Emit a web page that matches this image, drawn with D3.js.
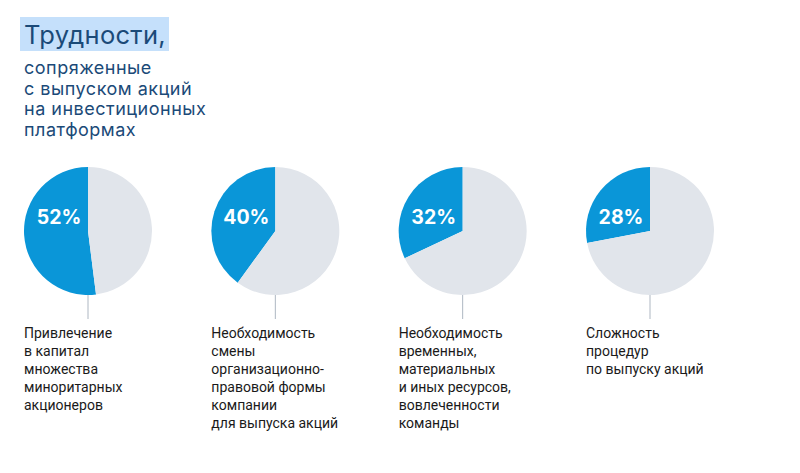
<!DOCTYPE html>
<html>
<head>
<meta charset="utf-8">
<script src="https://cdn.jsdelivr.net/npm/d3@7"></script>
<style>
  body { margin: 0; background: #fff; }
  svg { display: block; }
</style>
</head>
<body>
<svg id="chart" width="800" height="473"></svg>
<script>
// data
var shares = [52, 40, 32, 28];
var pctLabels = ["52%", "40%", "32%", "28%"];
var captions = [
  ["Привлечение", "в капитал", "множества", "миноритарных", "акционеров"],
  ["Необходимость", "смены", "организационно-", "правовой формы", "компании", "для выпуска акций"],
  ["Необходимость", "временных,", "материальных", "и иных ресурсов,", "вовлеченности", "команды"],
  ["Сложность", "процедур", "по выпуску акций"]
];
var titleText = "Трудности,";
var subtitleLines = ["сопряженные", "с выпуском акций", "на инвестиционных", "платформах"];

var svg = d3.select("#chart");
var blue = "#0a96d8", grey = "#e1e5eb", dark = "#1b4a78";

// title with highlight
svg.append("rect")
  .attr("x", 20).attr("y", 17)
  .attr("width", 149).attr("height", 34)
  .attr("fill", "#c5e0fb");

svg.append("text")
  .attr("x", 24).attr("y", 44)
  .attr("font-family", "Inter, 'Noto Sans', sans-serif")
  .attr("font-size", 25.5)
  .attr("letter-spacing", 0.3)
  .attr("fill", dark)
  .text(titleText);

svg.append("text")
  .attr("font-family", "Inter, 'Noto Sans', sans-serif")
  .attr("font-size", 18)
  .attr("letter-spacing", 0.5)
  .attr("fill", dark)
  .selectAll("tspan")
  .data(subtitleLines)
  .enter()
  .append("tspan")
  .attr("x", 24)
  .attr("y", function(d, i) { return 74 + i * 20.5; })
  .text(function(d) { return d; });

// scales
var x = d3.scalePoint()
  .domain(d3.range(shares.length))
  .range([88, 650]);

var cy = 231, r = 64;

var pie = d3.pie()
  .sort(null)
  .startAngle(0)
  .endAngle(-2 * Math.PI);

var arc = d3.arc().innerRadius(0).outerRadius(r);

var groups = svg.selectAll(".pie")
  .data(shares)
  .enter()
  .append("g")
  .attr("class", "pie")
  .attr("transform", function(d, i) { return "translate(" + x(i) + "," + cy + ")"; });

// connector lines
groups.append("line")
  .attr("x1", 0).attr("x2", 0)
  .attr("y1", r).attr("y2", r + 24)
  .attr("stroke", "#aeb7c2")
  .attr("stroke-width", 1);

groups.selectAll("path")
  .data(function(d) { return pie([d, 100 - d]); })
  .enter()
  .append("path")
  .attr("d", arc)
  .attr("fill", function(d, i) { return i === 0 ? blue : grey; });

groups.append("text")
  .attr("x", -29)
  .attr("y", -7)
  .attr("text-anchor", "middle")
  .attr("font-family", "Inter, 'Noto Sans', sans-serif")
  .attr("font-weight", "bold")
  .attr("font-size", 19.5)
  .attr("fill", "#fff")
  .text(function(d, i) { return pctLabels[i]; });

// captions
groups.append("text")
  .attr("font-family", "Roboto, sans-serif")
  .attr("font-size", 14)
  .attr("fill", "#1a1a1a")
  .selectAll("tspan")
  .data(function(d, i) { return captions[i]; })
  .enter()
  .append("tspan")
  .attr("x", -r)
  .attr("y", function(d, i) { return 107 + i * 18; })
  .text(function(d) { return d; });
</script>
</body>
</html>
